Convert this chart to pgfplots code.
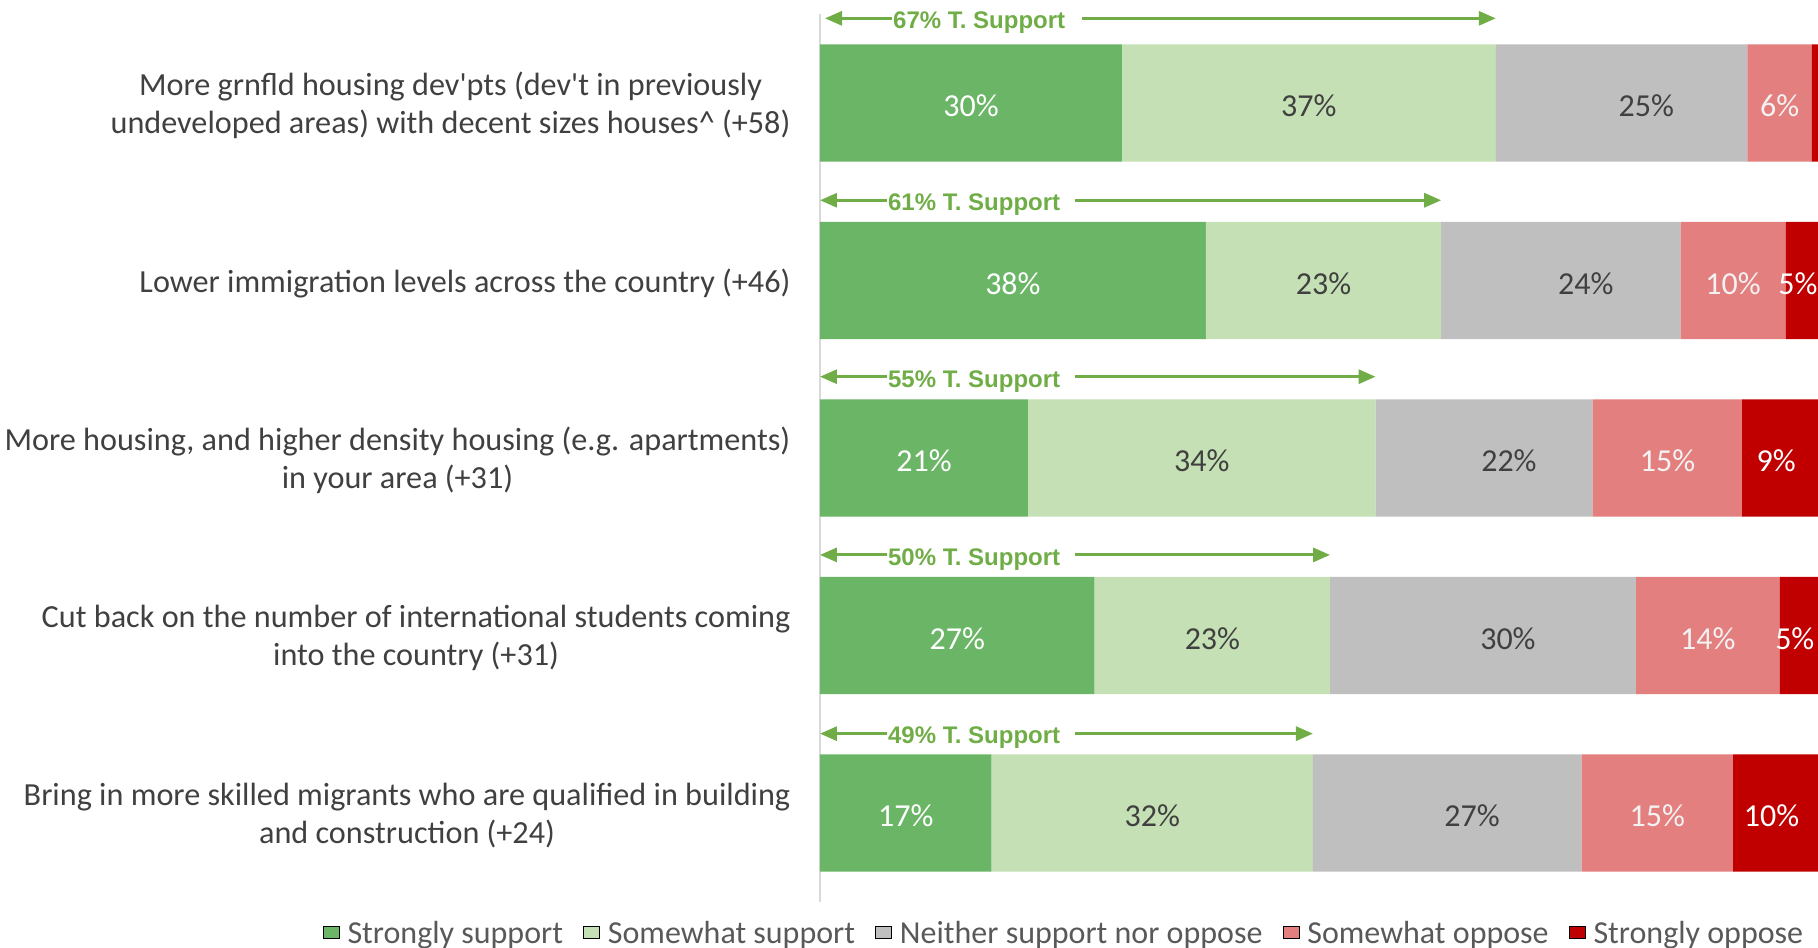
\documentclass[border=0pt]{standalone}
\usepackage{fontspec}
\setmainfont{Carlito}
\newfontfamily\libsans{Liberation Sans}
\usepackage{pgfplots}
\usepackage{pgfplotstable}
\pgfplotsset{compat=1.18}
\usetikzlibrary{arrows.meta}
\definecolor{cSS}{HTML}{6AB566}
\definecolor{cSW}{HTML}{C5E0B4}
\definecolor{cNE}{HTML}{BFBFBF}
\definecolor{cSO}{HTML}{E47F7F}
\definecolor{cST}{HTML}{C00000}
\definecolor{cArr}{HTML}{70AD47}
\definecolor{cTxt}{HTML}{404040}
\definecolor{cLeg}{HTML}{595959}
\definecolor{cAx}{HTML}{D9D9D9}

\tikzset{arrlab/.style={pos=1, anchor=base west, yshift=-5.15pt,
    inner sep=0pt, text=cArr,
    font=\libsans\bfseries\fontsize{12pt}{14pt}\selectfont}}

% visible widths of the segments (chart is cropped at 98.8 on the right)
\pgfplotstableread{
idx ss   sw   ne   so   st  lss  lsw  lne  lso  lst
4   29.9 37.0 24.9 6.4  0.6 30\% 37\% 25\% 6\%  {}
3   38.2 23.3 23.7 10.4 3.2 38\% 23\% 24\% 10\% 5\%
2   20.6 34.4 21.5 14.8 7.5 21\% 34\% 22\% 15\% 9\%
1   27.2 23.3 30.3 14.2 3.8 27\% 23\% 30\% 14\% 5\%
0   17.0 31.8 26.6 15.0 8.4 17\% 32\% 27\% 15\% 10\%
}\data
% centres of the segments, for the labels
\pgfplotstablecreatecol[expr={\thisrow{ss}/2}]{css}{\data}
\pgfplotstablecreatecol[expr={\thisrow{ss}+\thisrow{sw}/2}]{csw}{\data}
\pgfplotstablecreatecol[expr={\thisrow{ss}+\thisrow{sw}+\thisrow{ne}/2}]{cne}{\data}
\pgfplotstablecreatecol[expr={\thisrow{ss}+\thisrow{sw}+\thisrow{ne}+\thisrow{so}/2}]{cso}{\data}
\pgfplotstablecreatecol[expr={\thisrow{ss}+\thisrow{sw}+\thisrow{ne}+\thisrow{so}+\thisrow{st}/2}]{cst}{\data}

\begin{document}
\begin{tikzpicture}
\begin{axis}[
  name=ax,
  scale only axis, width=499pt, height=443.75pt,
  xmin=0, xmax=98.8, ymin=-0.5, ymax=4.5,
  clip=false,
  axis line style={draw=none},
  xtick=\empty,
  ytick={0,1,2,3,4},
  major tick length=0pt,
  extra x ticks={0}, extra x tick labels={},
  extra x tick style={grid=major, major grid style={draw=cAx, line width=1pt}},
  yticklabels={
    {Bring in more skilled migrants who are qualified in building\\and construction (+24)},
    {Cut back on the number of international students coming\\into the country (+31)},
    {More housing, and higher density housing (e.g. apartments)\\in your area (+31)},
    {Lower immigration levels across the country (+46)},
    {More grnfld housing dev\textquotesingle pts (dev\textquotesingle t in previously\\undeveloped areas) with decent sizes houses\textasciicircum{} (+58)}
  },
  yticklabel style={align=center, inner sep=0pt, xshift=-14.6pt, yshift=-1.3pt,
    font=\fontsize{16.1pt}{19.15pt}\selectfont, text=cTxt},
  seg/.style={xbar stacked, bar width=58.7pt, fill=#1, draw=none},
  lab/.style={only marks, mark=*, mark size=0pt, mark options={draw=none, fill=none},
    forget plot,
    point meta=explicit symbolic,
    nodes near coords={\pgfplotspointmeta},
    every node near coord/.append style={anchor=center, yshift=-1.4pt,
      font=\fontsize{16pt}{19pt}\selectfont, text=#1}},
  legend image code/.code={\fill[#1] (0pt,-4pt) rectangle (9pt,5pt);},
  legend style={draw=none, fill=none, at={(0.2455,-0.0363)}, anchor=center,
    legend columns=5, font=\fontsize{16pt}{19pt}\selectfont, text=cLeg,
    /tikz/every odd column/.append style={column sep=2pt},
    /tikz/every even column/.append style={column sep=8pt}},
  legend cell align=left,
  arrL/.style={sharp plot, forget plot, no markers,
    draw=cArr, line width=1.5pt,
    {Triangle[length=8.5pt,width=7pt]}-},
  arrR/.style={sharp plot, forget plot, no markers,
    draw=cArr, line width=1.5pt,
    -{Triangle[length=8.5pt,width=7pt]}},
]
\addplot[seg=cSS] table[x=ss, y=idx] {\data};
\addplot[seg=cSW] table[x=sw, y=idx] {\data};
\addplot[seg=cNE] table[x=ne, y=idx] {\data};
\addplot[seg=cSO] table[x=so, y=idx] {\data};
\addplot[seg=cST] table[x=st, y=idx] {\data};
\legend{Strongly support, Somewhat support, Neither support nor oppose, Somewhat oppose, Strongly oppose}

\addplot[lab=white] table[x=css, y=idx, meta=lss] {\data};
\addplot[lab=cTxt] table[x=csw, y=idx, meta=lsw] {\data};
\addplot[lab=cTxt, every node near coord/.append style={xshift=12.4pt}] table[x=cne, y=idx, meta=lne] {\data};
\addplot[lab=white!95!black] table[x=cso, y=idx, meta=lso] {\data};
\addplot[lab=white, every node near coord/.append style={xshift=-2pt}] table[x=cst, y=idx, meta=lst] {\data};

\addplot[arrL] coordinates {(0.5,4.477) (7.1,4.477)} node[arrlab] {67\% T. Support};
\addplot[arrR] coordinates {(25.9,4.477) (66.9,4.477)};
\addplot[arrL] coordinates {(0,3.452) (6.6,3.452)} node[arrlab] {61\% T. Support};
\addplot[arrR] coordinates {(25.2,3.452) (61.5,3.452)};
\addplot[arrL] coordinates {(0,2.458) (6.6,2.458)} node[arrlab] {55\% T. Support};
\addplot[arrR] coordinates {(25.2,2.458) (55.0,2.458)};
\addplot[arrL] coordinates {(0,1.454) (6.6,1.454)} node[arrlab] {50\% T. Support};
\addplot[arrR] coordinates {(25.2,1.454) (50.5,1.454)};
\addplot[arrL] coordinates {(0,0.447) (6.6,0.447)} node[arrlab] {49\% T. Support};
\addplot[arrR] coordinates {(25.2,0.447) (48.8,0.447)};
\end{axis}
\pgfresetboundingbox
\path[use as bounding box] ([xshift=-410pt,yshift=-23.125pt]ax.south west) rectangle ([yshift=7.125pt]ax.north east);
\end{tikzpicture}
\end{document}
